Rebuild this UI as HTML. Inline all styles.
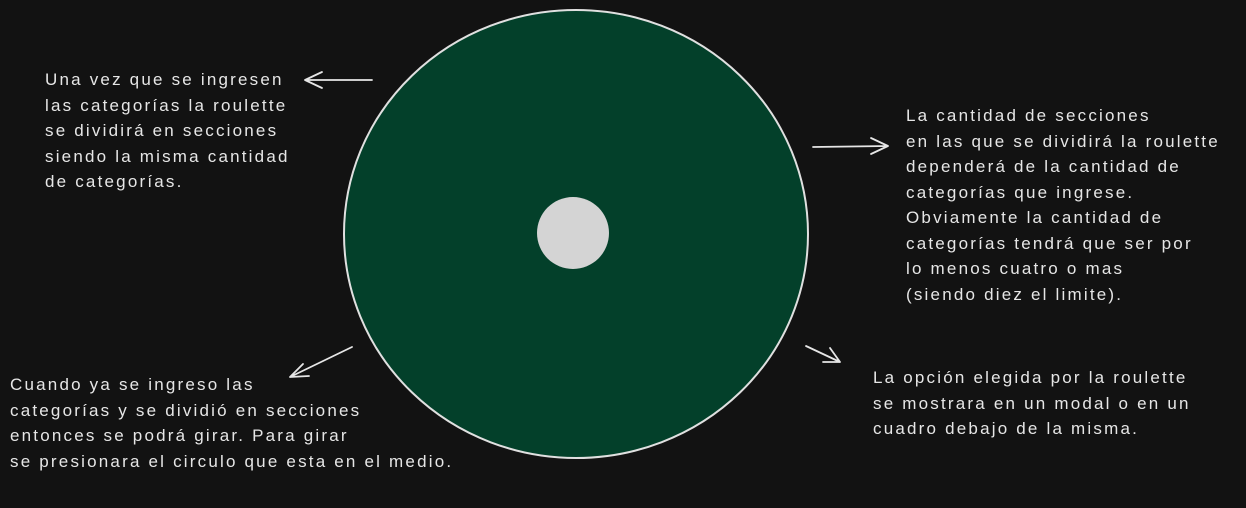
<!DOCTYPE html>
<html>
<head>
<meta charset="utf-8">
<style>
  html,body{margin:0;padding:0;background:#121212;}
  body{width:1246px;height:508px;overflow:hidden;position:relative;font-family:"Liberation Sans",sans-serif;}
  .note{position:absolute;color:#e6e6e6;font-size:17px;line-height:25.5px;white-space:pre;letter-spacing:2.2px;}
  svg{position:absolute;left:0;top:0;}
</style>
</head>
<body>
<svg width="1246" height="508">
  <ellipse cx="576" cy="234" rx="232" ry="224" fill="#03402a" stroke="#e0e0e0" stroke-width="2"/>
  <circle cx="573" cy="233" r="36" fill="#d4d4d4"/>
  <g stroke="#e6e6e6" stroke-width="1.8" fill="none" stroke-linecap="round">
    <g>
      <path d="M372 80 L305 80 M305 80 L322 72 M305 80 L322 88"/>
    </g>
    <g>
      <path d="M813 147 L888 146 M888 146 L871 138 M888 146 L871 154"/>
    </g>
    <g>
      <path d="M352 347 L290 377 M290 377 L303 364 M290 377 L309 376"/>
    </g>
    <g>
      <path d="M806 346 L840 362 M840 362 L830 348 M840 362 L823 362"/>
    </g>
  </g>
</svg>
<div class="note" style="left:45px;top:67px;">Una vez que se ingresen
las categorías la roulette
se dividirá en secciones
siendo la misma cantidad
de categorías.</div>
<div class="note" style="left:906px;top:103px;">La cantidad de secciones
en las que se dividirá la roulette
dependerá de la cantidad de
categorías que ingrese.
Obviamente la cantidad de
categorías tendrá que ser por
lo menos cuatro o mas
(siendo diez el limite).</div>
<div class="note" style="left:10px;top:372px;">Cuando ya se ingreso las
categorías y se dividió en secciones
entonces se podrá girar. Para girar
se presionara el circulo que esta en el medio.</div>
<div class="note" style="left:873px;top:365px;">La opción elegida por la roulette
se mostrara en un modal o en un
cuadro debajo de la misma.</div>
</body>
</html>
